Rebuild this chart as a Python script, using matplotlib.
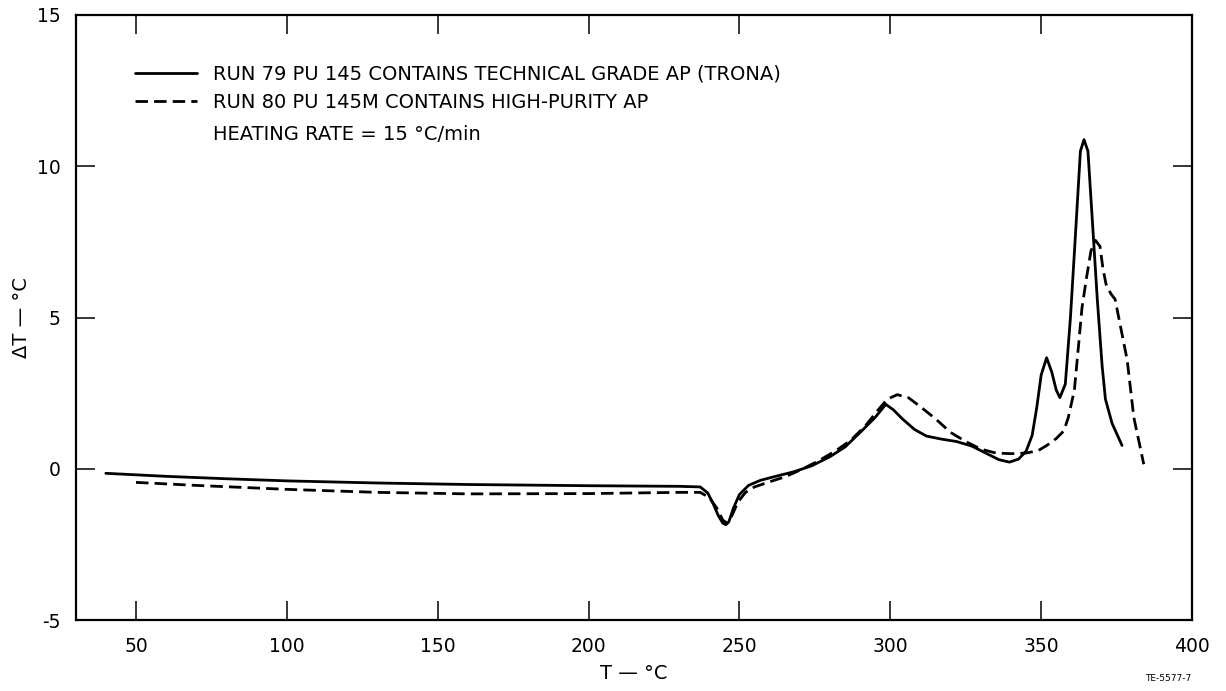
import matplotlib
matplotlib.use("Agg")
import matplotlib.pyplot as plt

# Run 79: PU 145, technical grade AP (trona)
run79_T = [40, 60, 80, 100, 130, 160, 200, 230, 237, 239.5, 241.5, 243, 244.5, 245.5,
           246.5, 248, 250, 253, 257, 262, 268, 274, 280, 285, 290, 295, 298.5, 301,
           304, 308, 312, 317, 322, 327, 332, 336, 339.5, 342.5, 345, 347, 348.5, 350,
           351.8, 353.5, 355, 356.2, 358, 359.7, 361.4, 363, 364.2, 365.5, 366.9, 368.6,
           370.2, 371.3, 373.5, 376.8]
run79_dT = [-0.15, -0.25, -0.33, -0.40, -0.47, -0.52, -0.56, -0.58, -0.60, -0.80, -1.20,
            -1.55, -1.80, -1.85, -1.75, -1.30, -0.85, -0.55, -0.38, -0.25, -0.10, 0.10,
            0.40, 0.72, 1.20, 1.70, 2.13, 1.95, 1.65, 1.30, 1.08, 0.98, 0.90, 0.75, 0.50,
            0.30, 0.22, 0.32, 0.58, 1.10, 2.00, 3.10, 3.67, 3.20, 2.60, 2.35, 2.80, 5.00,
            7.80, 10.50, 10.88, 10.50, 8.30, 5.60, 3.40, 2.30, 1.50, 0.77]

# Run 80: PU 145M, high-purity AP
run80_T = [50, 70, 100, 130, 160, 200, 230, 237, 240, 242.5, 244.5, 246, 247.5, 249.5,
           252, 255, 260, 265, 270, 276, 282, 287, 292, 296, 299, 302.3, 306, 310, 315,
           320, 325, 330, 335, 340, 345, 349, 352, 355, 357.5, 359, 361, 362.5, 363.5,
           365, 366.5, 368, 369.5, 370.5, 371.5, 373, 374.5, 376.3, 378.5, 380.7, 384]
run80_dT = [-0.45, -0.55, -0.68, -0.78, -0.83, -0.82, -0.78, -0.78, -0.95, -1.30, -1.70,
            -1.80, -1.55, -1.10, -0.78, -0.60, -0.43, -0.27, -0.05, 0.25, 0.60, 0.95,
            1.45, 1.95, 2.30, 2.45, 2.35, 2.05, 1.65, 1.20, 0.90, 0.65, 0.52, 0.50, 0.52,
            0.60, 0.78, 1.00, 1.25, 1.70, 2.60, 4.20, 5.30, 6.30, 7.20, 7.55, 7.35, 6.60,
            6.10, 5.80, 5.60, 4.70, 3.60, 1.70, 0.15]

x_ticks = [50, 100, 150, 200, 250, 300, 350, 400]
y_ticks = [-5, 0, 5, 10, 15]

label79 = "RUN 79 PU 145 CONTAINS TECHNICAL GRADE AP (TRONA)"
label80 = "RUN 80 PU 145M CONTAINS HIGH-PURITY AP"
rate_text = "HEATING RATE = 15 \u00b0C/min"

plt.rcParams["font.family"] = ["DejaVu Sans"]
plt.rcParams["axes.unicode_minus"] = False

fig = plt.figure(figsize=(12.26, 6.91), dpi=100)
ax = fig.add_axes([0.0617, 0.1027, 0.9106, 0.8756])

ax.plot(run79_T, run79_dT, color="black", lw=2.0, solid_joinstyle="round",
        solid_capstyle="round", label=label79)
ax.plot(run80_T, run80_dT, color="black", lw=2.0, dashes=(4.5, 2.2),
        dash_capstyle="butt", label=label80)

ax.set_xlim(30, 400)
ax.set_ylim(-5, 15)
ax.set_xticks(x_ticks)
ax.set_yticks(y_ticks)

for s in ax.spines.values():
    s.set_linewidth(1.6)

ax.tick_params(axis="both", which="major", direction="in", length=14, width=1.1,
               labelsize=13.5, top=True, right=True, color="black")
ax.tick_params(axis="x", pad=12)
ax.tick_params(axis="y", pad=11)

ax.set_xlabel("T \u2014 \u00b0C", fontsize=14, labelpad=6)
ax.set_ylabel("\u0394T \u2014 \u00b0C", fontsize=14)
ax.yaxis.set_label_coords(-0.04, 0.5)

leg = ax.legend(loc="upper left", bbox_to_anchor=(0.053, 0.918), frameon=False,
                fontsize=14, handlelength=3.2, handletextpad=0.82,
                labelspacing=0.48, borderaxespad=0, borderpad=0)
ax.text(0.123, 0.803, rate_text, transform=ax.transAxes, fontsize=14,
        ha="left", va="center")

fig.text(0.972, 0.012, "TE-5577-7", fontsize=6.5, ha="right", va="bottom")

fig.savefig("out.png", dpi=100)
